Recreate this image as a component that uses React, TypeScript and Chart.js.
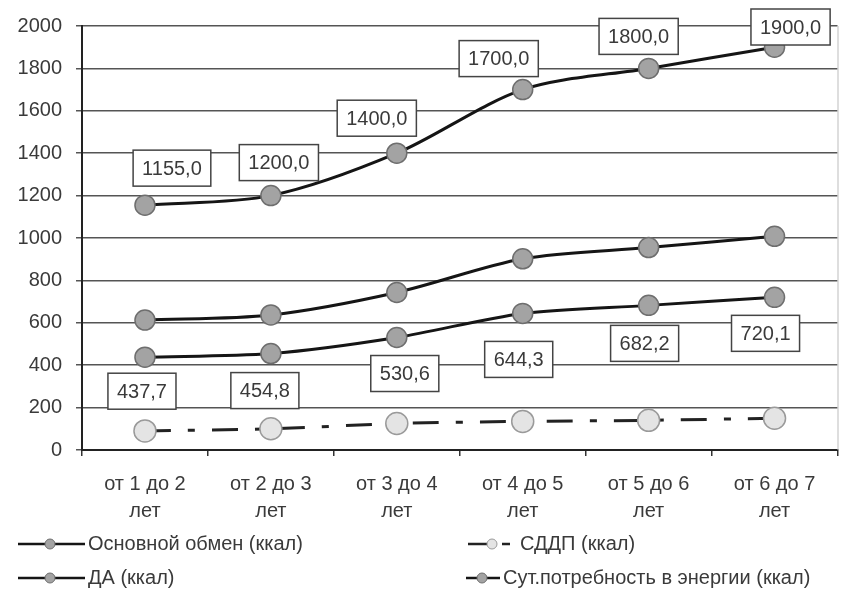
import React, { useEffect, useRef } from "react";
import { Chart, registerables } from "chart.js";

Chart.register(...registerables);

// ---- data ----
const categories: string[][] = [
  ["от 1 до 2", "лет"],
  ["от 2 до 3", "лет"],
  ["от 3 до 4", "лет"],
  ["от 4 до 5", "лет"],
  ["от 5 до 6", "лет"],
  ["от 6 до 7", "лет"],
];
const baseMetabolism = [437.7, 454.8, 530.6, 644.3, 682.2, 720.1];
const activity = [613, 637, 743, 902, 955, 1008];
const sddp = [90, 100, 125, 135, 140, 150];
const dailyNeed = [1155, 1200, 1400, 1700, 1800, 1900];
const seriesNames = [
  "Основной обмен (ккал)",
  "ДА (ккал)",
  "СДДП (ккал)",
  "Сут.потребность в энергии (ккал)",
];
const yMin = 0;
const yMax = 2000;
const yStep = 200;

// ---- label placement (style, relative to each point) ----
const TOP_LABEL_DX = [27, 8, -20, -24, -10, 16];
const TOP_LABEL_DY = [-37, -33, -35, -31, -32, -22];
const BOTTOM_LABEL_DX = [-3, -6, 8, -4, -4, -9];
const BOTTOM_LABEL_DY = [34, 37, 36, 46, 38, 36];

const FONT = '"Liberation Sans", Arial, sans-serif';
const TEXT = "#3a3a3a";
const SDDP_DASH = [26, 17, 7, 17];

const fmt = (v: number) => v.toFixed(1).replace(".", ",");

function drawBox(ctx: CanvasRenderingContext2D, text: string, cx: number, cy: number, W: number) {
  ctx.save();
  ctx.font = `20px ${FONT}`;
  const w = ctx.measureText(text).width + 18;
  const h = 36;
  let x = cx - w / 2;
  let y = cy - h / 2;
  x = Math.min(x, W - 7 - w);
  y = Math.max(y, 9);
  ctx.fillStyle = "#ffffff";
  ctx.fillRect(x, y, w, h);
  ctx.strokeStyle = "#444";
  ctx.lineWidth = 1.5;
  ctx.strokeRect(x, y, w, h);
  ctx.fillStyle = TEXT;
  ctx.textAlign = "center";
  ctx.textBaseline = "middle";
  ctx.fillText(text, x + w / 2, y + h / 2 + 1);
  ctx.restore();
}

const labelPlugin = {
  id: "boxLabels",
  afterDatasetsDraw(chart: any) {
    const ctx = chart.ctx as CanvasRenderingContext2D;
    const W = chart.width;
    const top = chart.getDatasetMeta(3);
    top.data.forEach((p: any, i: number) => {
      drawBox(ctx, fmt(dailyNeed[i]), p.x + TOP_LABEL_DX[i], p.y + TOP_LABEL_DY[i], W);
    });
    const bot = chart.getDatasetMeta(0);
    bot.data.forEach((p: any, i: number) => {
      drawBox(ctx, fmt(baseMetabolism[i]), p.x + BOTTOM_LABEL_DX[i], p.y + BOTTOM_LABEL_DY[i], W);
    });
  },
};

const framePlugin = {
  id: "frame",
  beforeDatasetsDraw(chart: any) {
    const { ctx, chartArea } = chart;
    ctx.save();
    ctx.strokeStyle = "#bdbdbd";
    ctx.lineWidth = 1;
    ctx.beginPath();
    ctx.moveTo(chartArea.right + 0.5, chartArea.top);
    ctx.lineTo(chartArea.right + 0.5, chartArea.bottom);
    ctx.stroke();
    ctx.restore();
  },
};

const legendPlugin = {
  id: "customLegend",
  afterDraw(chart: any) {
    const ctx = chart.ctx as CanvasRenderingContext2D;
    const ds = chart.data.datasets;
    const items = [
      { i: 0, x1: 18, x2: 85, mx: 50, tx: 88, y: 544, dash: [] as number[] },
      { i: 1, x1: 18, x2: 85, mx: 50, tx: 88, y: 578, dash: [] as number[] },
      { i: 2, x1: 468, x2: 516, mx: 492, tx: 520, y: 544, dash: [22, 12, 8, 12] },
      { i: 3, x1: 466, x2: 500, mx: 482, tx: 503, y: 578, dash: [] as number[] },
    ];
    ctx.save();
    items.forEach((it) => {
      const d = ds[it.i];
      ctx.strokeStyle = d.borderColor;
      ctx.lineWidth = 2.5;
      ctx.setLineDash(it.dash);
      ctx.beginPath();
      ctx.moveTo(it.x1, it.y);
      ctx.lineTo(it.x2, it.y);
      ctx.stroke();
      ctx.setLineDash([]);
      ctx.beginPath();
      ctx.arc(it.mx, it.y, 5, 0, Math.PI * 2);
      ctx.fillStyle = d.pointBackgroundColor;
      ctx.fill();
      ctx.strokeStyle = d.pointBorderColor;
      ctx.lineWidth = 1;
      ctx.stroke();
      ctx.fillStyle = TEXT;
      ctx.font = `20px ${FONT}`;
      ctx.textAlign = "left";
      ctx.textBaseline = "middle";
      ctx.fillText(d.label, it.tx, it.y);
    });
    ctx.restore();
  },
};

export default function App() {
  const ref = useRef<HTMLCanvasElement | null>(null);

  useEffect(() => {
    if (!ref.current) return;
    const mainLine = {
      borderColor: "#151515",
      borderWidth: 3,
      tension: 0.3,
      pointRadius: 10,
      pointBackgroundColor: "#a3a3a3",
      pointBorderColor: "#6e6e6e",
      pointBorderWidth: 1.5,
      fill: false,
    };
    const chart = new Chart(ref.current, {
      type: "line",
      data: {
        labels: categories,
        datasets: [
          { ...mainLine, label: seriesNames[0], data: baseMetabolism },
          { ...mainLine, label: seriesNames[1], data: activity },
          {
            label: seriesNames[2],
            data: sddp,
            borderColor: "#222",
            borderWidth: 3,
            borderDash: SDDP_DASH,
            tension: 0.3,
            pointRadius: 11,
            pointBackgroundColor: "#e4e4e4",
            pointBorderColor: "#9a9a9a",
            pointBorderWidth: 1.5,
            fill: false,
          },
          { ...mainLine, label: seriesNames[3], data: dailyNeed },
        ],
      },
      options: {
        responsive: false,
        animation: false,
        layout: { padding: { top: 25, right: 9, left: 0, bottom: 0 } },
        plugins: {
          legend: { display: false },
          tooltip: { enabled: false },
          title: { display: false },
        },
        scales: {
          x: {
            offset: true,
            grid: {
              display: true,
              drawOnChartArea: false,
              drawTicks: true,
              tickLength: 6,
              offset: true,
              color: "#333",
              lineWidth: 1.5,
            },
            border: { display: true, color: "#222", width: 2 },
            ticks: {
              color: TEXT,
              padding: 15,
              maxRotation: 0,
              autoSkip: false,
              font: { family: FONT, size: 20, lineHeight: 1.35 },
            },
            afterFit(scale: any) {
              scale.height = 143;
            },
          },
          y: {
            min: yMin,
            max: yMax,
            ticks: {
              stepSize: yStep,
              color: TEXT,
              padding: 14,
              font: { family: FONT, size: 20 },
              callback: (v: any) => String(v),
            },
            grid: {
              color: "#555",
              lineWidth: 1.5,
              drawTicks: true,
              tickLength: 6,
            },
            border: { display: true, color: "#222", width: 2 },
            afterFit(scale: any) {
              scale.width = 82;
            },
          },
        },
      },
      plugins: [framePlugin, labelPlugin, legendPlugin],
    } as any);
    return () => chart.destroy();
  }, []);

  return (
    <div style={{ background: "#fff" }}>
      <style>{`body{margin:0;background:#fff}`}</style>
      <canvas ref={ref} width={850} height={593} style={{ display: "block" }} />
    </div>
  );
}
